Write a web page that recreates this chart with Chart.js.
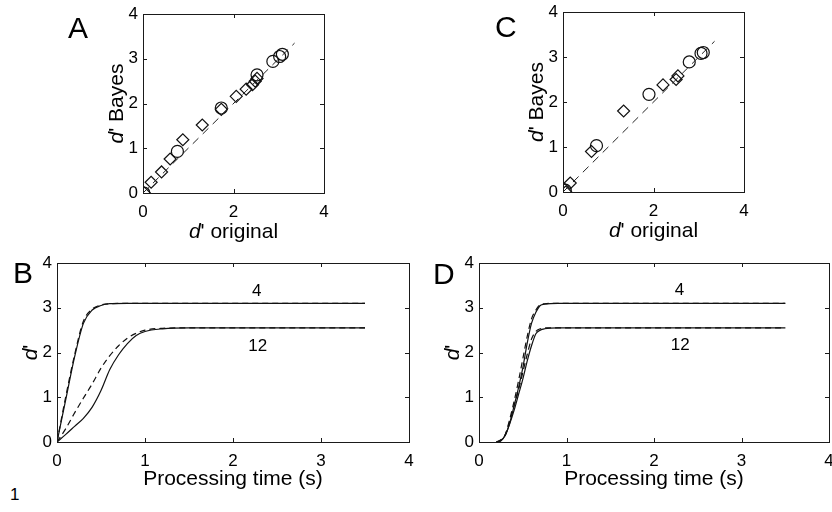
<!DOCTYPE html>
<html>
<head>
<meta charset="utf-8">
<script src="https://cdn.jsdelivr.net/npm/chart.js@4.4.0/dist/chart.umd.min.js"></script>
<style>
  html, body { margin: 0; padding: 0; background: #fff; }
  body { width: 832px; height: 512px; position: relative; overflow: hidden; }
  canvas { position: absolute; }
  .note { position: absolute; left: 10px; top: 485px; font: 17px "Liberation Sans", Arial, sans-serif; color: #000; }
</style>
</head>
<body>
<div class="note">1</div>
<script>
// Panel A: d' from the Bayesian fit against the original d'
var aCircleX = [0.02, 0.76, 1.73, 2.52, 2.87, 3.02, 3.08];
var aCircleY = [0.00, 0.93, 1.90, 2.64, 2.94, 3.05, 3.10];
var aDiamondX = [0.03, 0.18, 0.41, 0.60, 0.88, 1.31, 1.73, 2.06, 2.28, 2.42, 2.48, 2.52];
var aDiamondY = [0.00, 0.24, 0.47, 0.76, 1.19, 1.52, 1.87, 2.16, 2.32, 2.42, 2.50, 2.56];

// Panel C
var cCircleX = [0.05, 0.74, 1.90, 2.79, 3.05, 3.10];
var cCircleY = [0.04, 1.03, 2.17, 2.89, 3.08, 3.10];
var cDiamondX = [0.06, 0.16, 0.63, 1.34, 2.21, 2.50, 2.54];
var cDiamondY = [0.00, 0.20, 0.90, 1.80, 2.38, 2.50, 2.58];

// identity line
var diagX = [0, 3.35];
var diagY = [0, 3.35];

// Panel B: d' over processing time, set size 4 and 12
var bTime4 = [0, 0.1, 0.2, 0.3, 0.4, 0.5, 0.6, 0.8, 1.0, 3.5];
var bSolid4 = [0, 0.95, 1.90, 2.65, 2.95, 3.05, 3.09, 3.10, 3.10, 3.10];
var bDash4 = [0, 1.02, 1.95, 2.70, 2.97, 3.06, 3.09, 3.10, 3.10, 3.10];
var bTime12 = [0, 0.1, 0.2, 0.3, 0.4, 0.5, 0.6, 0.7, 0.8, 0.9, 1.0, 1.2, 1.5, 3.5];
var bSolid12 = [0, 0.17, 0.35, 0.53, 0.78, 1.15, 1.62, 1.95, 2.20, 2.38, 2.47, 2.53, 2.55, 2.55];
var bDash12 = [0, 0.30, 0.65, 0.98, 1.30, 1.65, 1.93, 2.15, 2.32, 2.43, 2.50, 2.54, 2.55, 2.55];

// Panel D
var dTime = [0.2, 0.25, 0.3, 0.35, 0.4, 0.45, 0.5, 0.55, 0.6, 0.65, 0.7, 0.75, 0.9, 3.5];
var dSolid4 = [0, 0.03, 0.15, 0.42, 0.80, 1.20, 1.65, 2.20, 2.65, 2.90, 3.05, 3.08, 3.10, 3.10];
var dDash4 = [0, 0.05, 0.17, 0.50, 0.90, 1.35, 1.85, 2.35, 2.75, 2.95, 3.07, 3.09, 3.10, 3.10];
var dSolid12 = [0, 0.03, 0.15, 0.40, 0.70, 1.05, 1.40, 1.80, 2.15, 2.42, 2.50, 2.53, 2.55, 2.55];
var dDash12 = [0, 0.04, 0.16, 0.45, 0.80, 1.15, 1.55, 1.95, 2.30, 2.47, 2.53, 2.55, 2.55, 2.55];

// set-size labels next to the curves
var setLabels = ['4', '12'];
var bLabelX = [2.27, 2.28];
var bLabelY = [3.37, 2.13];
var dLabelX = [2.29, 2.30];
var dLabelY = [3.40, 2.17];

var axisTicks = [0, 1, 2, 3, 4];

var FONT = '"Liberation Sans", Arial, Helvetica, sans-serif';
var PAD_L = 90, PAD_T = 20, PAD_R = 25, PAD_B = 65;

Chart.defaults.font.family = FONT;
Chart.defaults.font.size = 17;
Chart.defaults.color = '#000';

function pts(xs, ys) {
  return xs.map(function(x, i) { return { x: x, y: ys[i] }; });
}

// draws a string made of italic and upright pieces, centred on x
function drawRich(ctx, parts, x, y, size) {
  var total = 0;
  var widths = parts.map(function(p) {
    ctx.font = (p[1] ? 'italic ' : '') + size + 'px ' + FONT;
    var w = ctx.measureText(p[0]).width;
    total += w;
    return w;
  });
  var cx = x - total / 2;
  parts.forEach(function(p, i) {
    ctx.font = (p[1] ? 'italic ' : '') + size + 'px ' + FONT;
    ctx.fillText(p[0], cx, y);
    cx += widths[i];
  });
}

// box, inward ticks, axis titles, curve labels and panel letter
var framePlugin = {
  id: 'frame',
  afterDraw: function(chart) {
    var o = chart.options.plugins.frame;
    var ctx = chart.ctx, a = chart.chartArea;
    var xs = chart.scales.x, ys = chart.scales.y;
    var tl = 4;
    ctx.save();
    ctx.strokeStyle = '#1a1a1a';
    ctx.lineWidth = 1;
    ctx.strokeRect(Math.round(a.left) + 0.5, Math.round(a.top) + 0.5,
      Math.round(a.right - a.left), Math.round(a.bottom - a.top));
    ctx.beginPath();
    xs.ticks.forEach(function(t) {
      var px = Math.round(xs.getPixelForValue(t.value)) + 0.5;
      ctx.moveTo(px, a.bottom); ctx.lineTo(px, a.bottom - tl);
      ctx.moveTo(px, a.top); ctx.lineTo(px, a.top + tl);
    });
    ys.ticks.forEach(function(t) {
      var py = Math.round(ys.getPixelForValue(t.value)) + 0.5;
      ctx.moveTo(a.left, py); ctx.lineTo(a.left + tl, py);
      ctx.moveTo(a.right, py); ctx.lineTo(a.right - tl, py);
    });
    ctx.stroke();

    ctx.fillStyle = '#000';
    ctx.textBaseline = 'middle';
    ctx.textAlign = 'left';
    drawRich(ctx, o.xTitle, (a.left + a.right) / 2, a.bottom + o.xTitleGap, 21);

    ctx.save();
    ctx.translate(a.left - o.yTitleGap, (a.top + a.bottom) / 2);
    ctx.rotate(-Math.PI / 2);
    drawRich(ctx, o.yTitle, 0, 0, 21);
    ctx.restore();

    if (o.labels) {
      ctx.font = '17px ' + FONT;
      ctx.textAlign = 'center';
      o.labels.text.forEach(function(s, i) {
        ctx.fillText(s, xs.getPixelForValue(o.labels.x[i]), ys.getPixelForValue(o.labels.y[i]));
      });
    }

    ctx.font = '30px ' + FONT;
    ctx.textAlign = 'left';
    ctx.textBaseline = 'alphabetic';
    ctx.fillText(o.letter, a.left + o.letterDx, a.top + o.letterDy);
    ctx.restore();
  }
};

function scatterSets(circleX, circleY, diamondX, diamondY) {
  return [
    { data: pts(diagX, diagY), showLine: true, pointRadius: 0, borderColor: '#222',
      borderWidth: 1, borderDash: [8, 6], fill: false },
    { data: pts(diamondX, diamondY), pointStyle: 'rectRot', pointRadius: 6,
      borderColor: '#111', borderWidth: 1.2, backgroundColor: 'rgba(0,0,0,0)' },
    { data: pts(circleX, circleY), pointStyle: 'circle', pointRadius: 6,
      borderColor: '#111', borderWidth: 1.2, backgroundColor: 'rgba(0,0,0,0)' }
  ];
}

function curve(xs, ys, dashed) {
  return { data: pts(xs, ys), showLine: true, pointRadius: 0, borderColor: '#111',
    borderWidth: 1.2, borderDash: dashed ? [6, 4] : [], cubicInterpolationMode: 'monotone',
    fill: false };
}

function makePanel(area, xStep, datasets, frame) {
  var cv = document.createElement('canvas');
  cv.width = area.w + PAD_L + PAD_R;
  cv.height = area.h + PAD_T + PAD_B;
  cv.style.left = (area.x - PAD_L) + 'px';
  cv.style.top = (area.y - PAD_T) + 'px';
  document.body.appendChild(cv);
  return new Chart(cv, {
    type: 'scatter',
    data: { datasets: datasets },
    plugins: [framePlugin],
    options: {
      responsive: false,
      animation: false,
      events: [],
      layout: { padding: { left: 0, top: PAD_T, right: PAD_R, bottom: 0 } },
      plugins: { legend: { display: false }, tooltip: { enabled: false }, frame: frame },
      scales: {
        x: {
          type: 'linear', min: 0, max: 4,
          afterBuildTicks: function(s) { s.ticks = axisTicks.filter(function(v) { return v % xStep === 0; }).map(function(v) { return { value: v }; }); },
          ticks: { padding: 9, maxRotation: 0, autoSkip: false },
          grid: { display: false, drawTicks: false },
          border: { display: false },
          afterFit: function(s) { s.height = PAD_B; }
        },
        y: {
          type: 'linear', min: 0, max: 4,
          afterBuildTicks: function(s) { s.ticks = axisTicks.map(function(v) { return { value: v }; }); },
          ticks: { padding: 5, autoSkip: false },
          grid: { display: false, drawTicks: false },
          border: { display: false },
          afterFit: function(s) { s.width = PAD_L; }
        }
      }
    }
  });
}

makePanel({ x: 143, y: 14, w: 181, h: 179 }, 2,
  scatterSets(aCircleX, aCircleY, aDiamondX, aDiamondY),
  { letter: 'A', letterDx: -75, letterDy: 24, xTitleGap: 39, yTitleGap: 26,
    xTitle: [['d', true], ["' original", false]], yTitle: [['d', true], ["' Bayes", false]] });

makePanel({ x: 563, y: 12, w: 181, h: 180 }, 2,
  scatterSets(cCircleX, cCircleY, cDiamondX, cDiamondY),
  { letter: 'C', letterDx: -68, letterDy: 25, xTitleGap: 39, yTitleGap: 26,
    xTitle: [['d', true], ["' original", false]], yTitle: [['d', true], ["' Bayes", false]] });

makePanel({ x: 57, y: 263, w: 352, h: 179 }, 1,
  [curve(bTime4, bSolid4, false), curve(bTime4, bDash4, true),
   curve(bTime12, bSolid12, false), curve(bTime12, bDash12, true)],
  { letter: 'B', letterDx: -44, letterDy: 20, xTitleGap: 37, yTitleGap: 26,
    xTitle: [['Processing time (s)', false]], yTitle: [['d', true], ["'", false]],
    labels: { text: setLabels, x: bLabelX, y: bLabelY } });

makePanel({ x: 479, y: 263, w: 350, h: 179 }, 1,
  [curve(dTime, dSolid4, false), curve(dTime, dDash4, true),
   curve(dTime, dSolid12, false), curve(dTime, dDash12, true)],
  { letter: 'D', letterDx: -46, letterDy: 21, xTitleGap: 37, yTitleGap: 26,
    xTitle: [['Processing time (s)', false]], yTitle: [['d', true], ["'", false]],
    labels: { text: setLabels, x: dLabelX, y: dLabelY } });
</script>
</body>
</html>
